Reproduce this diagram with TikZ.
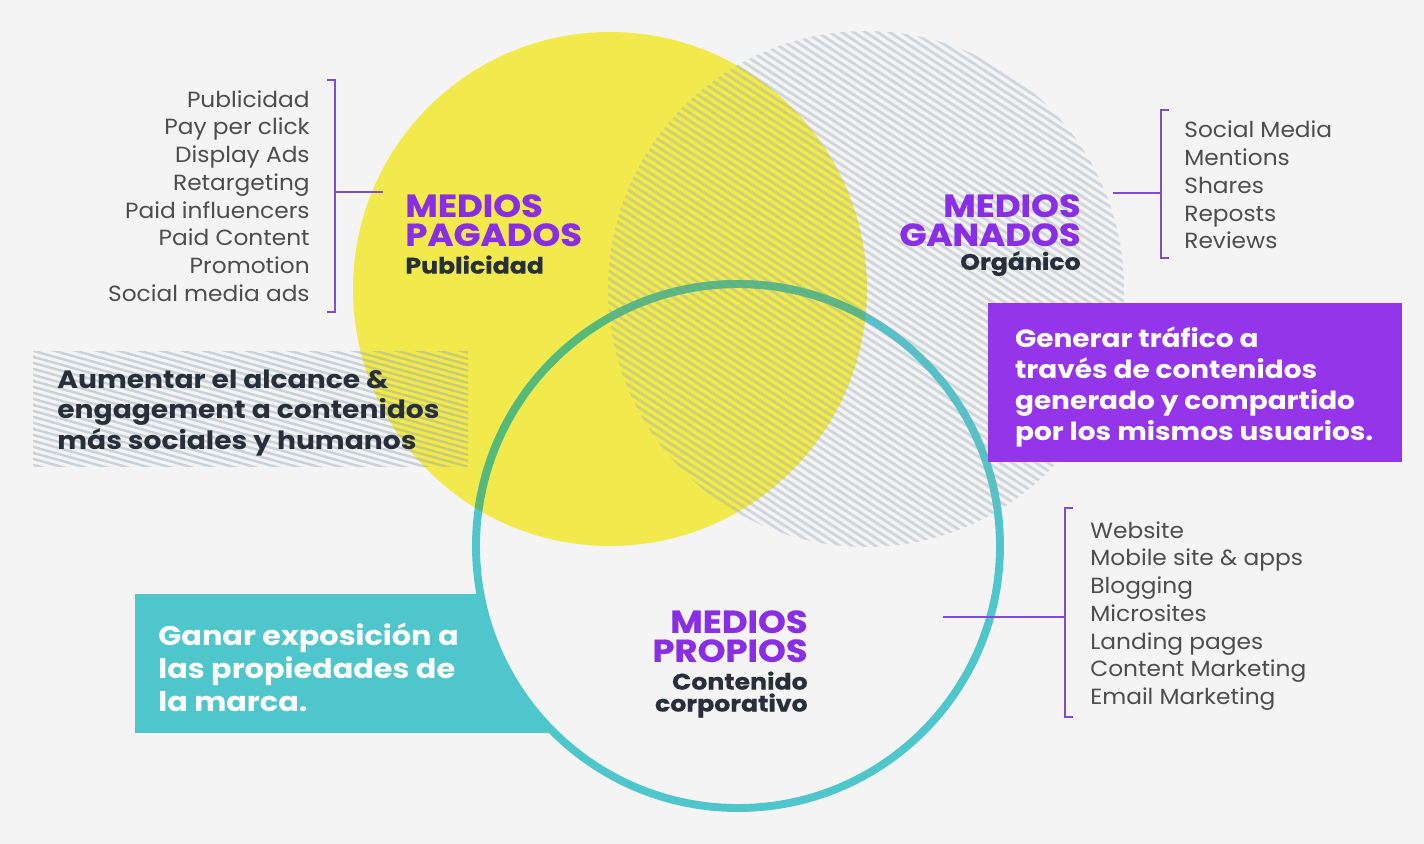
\documentclass[tikz,border=0pt]{standalone}
\usepackage{fontspec}
\setmainfont{Poppins}[FakeStretch=1.06]
\newfontfamily\widefont{Poppins}[FakeStretch=1.12]
\newfontfamily\heavyfont{Poppins}[FakeStretch=1.12, BoldFeatures={FakeBold=0.6}]
\usetikzlibrary{positioning, calc}
\definecolor{bgpaper}{HTML}{F4F4F4}
\definecolor{paidfill}{HTML}{F2EA4C}
\definecolor{ownteal}{HTML}{4EC6CB}
\definecolor{owngreen}{HTML}{55B97A}
\definecolor{titlepurple}{HTML}{8A2EE6}
\definecolor{boxpurple}{HTML}{9535E9}
\definecolor{brkpurple}{HTML}{7E4DD2}
\definecolor{listgray}{HTML}{4D4D4D}
\definecolor{darktext}{HTML}{262F3A}
\definecolor{hatchgray}{HTML}{8FA3B3}
\tikzset{
  x=0.02cm, y=-0.02cm,
  listtext/.style={inner sep=0pt, text=listgray, font=\fontsize{12.5}{15.8}\selectfont},
  title/.style={inner sep=0pt, text=titlepurple, font=\heavyfont\fontsize{18}{16.5}\selectfont\bfseries},
  subtitle/.style={inner sep=0pt, text=darktext, font=\heavyfont\fontsize{12.8}{12.5}\selectfont\bfseries},
  goaltext/.style={inner sep=0pt, align=left, font=\widefont\fontsize{14.3}{17.1}\selectfont\bfseries},
  bracket/.style={draw=brkpurple, line width=1.4pt},
  hatch/.style={draw=hatchgray, line width=1.6pt, opacity=0.36},
  bandhatch/.style={draw=hatchgray, line width=1.4pt, opacity=0.42},
  ring/.style={draw=ownteal, line width=4.5pt},
}

\begin{document}
\begin{tikzpicture}

% Canvas
\fill[bgpaper] (0,0) rectangle (1424,844);

% Circle centres
\coordinate (cpaid) at (610,289);
\coordinate (cearn) at (866,289);
\coordinate (cown)  at (738,546);

% Teal box, cut by the owned-media circle
\fill[ownteal] (135,594) rectangle (600,733);
\begin{scope}
  \clip (135,594) rectangle (600,733);
  \fill[bgpaper] (cown) circle[radius=262];
\end{scope}

% Paid media circle
\fill[paidfill] (cpaid) circle[radius=257];

% Owned media ring, greener where it crosses the yellow
\draw[ring] (cown) circle[radius=262];
\begin{scope}
  \clip (cpaid) circle[radius=257];
  \draw[ring, draw=owngreen] (cown) circle[radius=262];
\end{scope}

% Earned media circle, hatched
\begin{scope}
  \clip (cearn) circle[radius=258];
  \foreach \i in {0,...,115}
    \draw[hatch] (-240+\i*12,0) -- ++(1000,650);
\end{scope}

% Hatched band behind the reach goal
\begin{scope}
  \clip (33,352) rectangle (468,467);
  \foreach \i in {0,...,42}
    \draw[bandhatch] (23,222+\i*6) -- ++(460,129);
\end{scope}

% Purple goal box
\node[fill=boxpurple, inner sep=0pt, minimum width=8.28cm,
      minimum height=3.18cm] (earngoal) at (1195,382.5) {};
\node[goaltext, text=white, anchor=west,
      font=\widefont\fontsize{14.2}{17.7}\selectfont\bfseries] (earntext)
  at ([xshift=0.54cm, yshift=-2.7pt]earngoal.west)
  {Generar tráfico a\\través de contenidos\\generado y compartido\\por los mismos usuarios.};

% Goals
\node[goaltext, text=darktext, anchor=west] (paidgoal) at (57,413)
  {Aumentar el alcance \&\\engagement a contenidos\\más sociales y humanos};
\node[goaltext, text=white, anchor=west, font=\widefont\fontsize{15.4}{18.8}\selectfont\bfseries] (owngoal)
  at (158,667) {Ganar exposición a\\las propiedades de\\la marca.};

% Titles
\node[title, anchor=north west, align=left] (paid) at (405,194) {MEDIOS\\PAGADOS};
\node[subtitle, below=5pt of paid.south west, anchor=north west] (paidsub) {Publicidad};
\node[title, anchor=north east, align=right] (earn) at (1081,194) {MEDIOS\\GANADOS};
\node[subtitle, below=2.5pt of earn.south east, anchor=north east] (earnsub) {Orgánico};
\node[title, anchor=north east, align=right] (own) at (808,610) {MEDIOS\\PROPIOS};
\node[subtitle, below=5pt of own.south east, anchor=north east, align=right] (ownsub) {Contenido\\corporativo};

% Lists
\node[listtext, anchor=east, align=right] (paidlist) at (310,196)
  {Publicidad\\Pay per click\\Display Ads\\Retargeting\\Paid influencers\\Paid Content\\Promotion\\Social media ads};
\node[listtext, anchor=west, align=left] (earnlist) at (1184,185)
  {Social Media\\Mentions\\Shares\\Reposts\\Reviews};
\node[listtext, anchor=west, align=left] (ownlist) at (1090,616)
  {Website\\Mobile site \& apps\\Blogging\\Microsites\\Landing pages\\Content Marketing\\Email Marketing};

% Brackets
\coordinate (paidtick) at (383,192);
\coordinate (earntick) at (1113,193);
\coordinate (owntick)  at (943,617);
\draw[bracket] (327,80) -- (335,80) -- (335,312) -- (327,312);
\draw[bracket] (335,192) -- (paidtick);
\draw[bracket] (1169,110) -- (1161,110) -- (1161,258) -- (1169,258);
\draw[bracket] (1161,193) -- (earntick);
\draw[bracket] (1073,508) -- (1065,508) -- (1065,717) -- (1073,717);
\draw[bracket] (1065,617) -- (owntick);

\end{tikzpicture}
\end{document}
